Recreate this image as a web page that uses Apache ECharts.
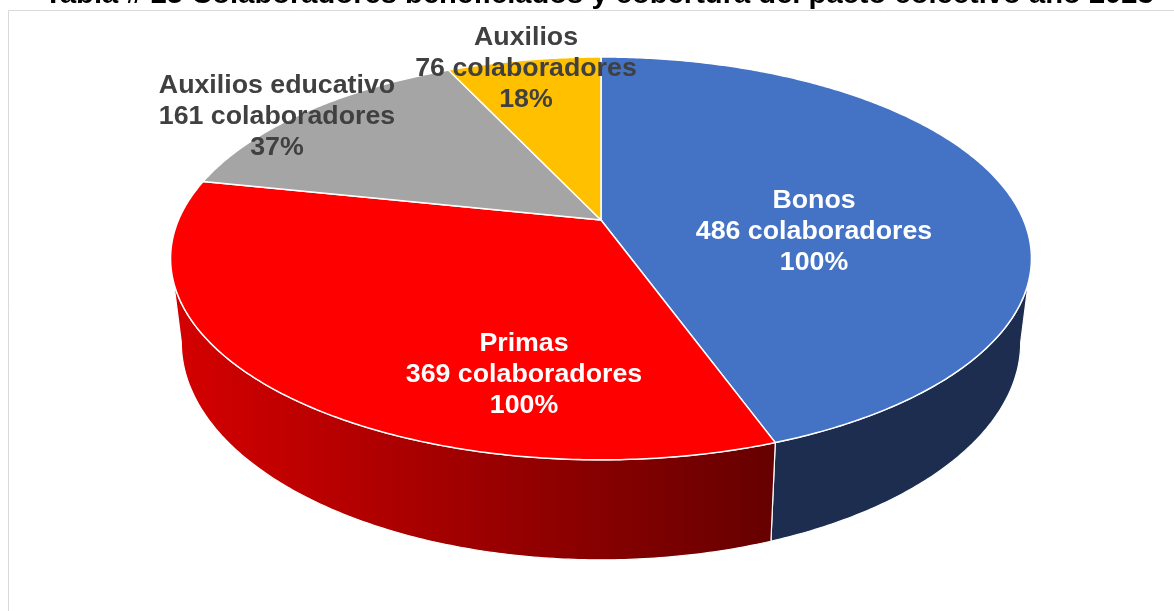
<!DOCTYPE html>
<html>
<head>
<meta charset="utf-8">
<script src="https://cdn.jsdelivr.net/npm/echarts@6/dist/echarts.min.js"></script>
<style>
html,body{margin:0;padding:0;background:#fff;}
#chart{width:1174px;height:611px;}
</style>
</head>
<body>
<div id="chart"></div>
<script>
// ---- data ----
var categories = ['Bonos', 'Primas', 'Auxilios educativo', 'Auxilios'];
var colaboradores = [486, 369, 161, 76];
var cobertura = ['100%', '100%', '37%', '18%'];
var titleText = 'Tabla # 25 Colaboradores beneficiados y cobertura del pacto colectivo año 2023';

// ---- style / layout ----
var topColors = ['#4472C4', '#FF0000', '#A5A5A5', '#FFC000'];
var wallColors = [
  '#1C2D50',
  {type: 'linear', x: 180, y: 0, x2: 775, y2: 0, global: true,
   colorStops: [{offset: 0, color: '#D40000'}, {offset: 1, color: '#660000'}]},
  '#5E5E5E',
  '#8F6C00'
];
var labelColors = ['#FFFFFF', '#FFFFFF', '#404040', '#404040'];
var labelPos = [[814, 232], [524, 375], [277, 117], [526, 69]];

// perspective projection of a tilted disc
var P = {cx: 601, yh: -797, H: 5329, D0: 5.24, F: 2214, depth: 424, shrink: 0.975};
function proj(theta, r, bottom) {
  var D = P.D0 + r * Math.cos(theta);
  var f = bottom ? P.F * P.shrink : P.F;
  return [P.cx + f * r * Math.sin(theta) / D, P.yh + (P.H + (bottom ? P.depth : 0)) / D];
}
var total = colaboradores.reduce(function (a, b) { return a + b; }, 0);
function sliceAngles(i) {
  var s = 0;
  for (var k = 0; k < i; k++) s += colaboradores[k];
  return [s / total * 2 * Math.PI, (s + colaboradores[i]) / total * 2 * Math.PI];
}
var silA = Math.acos(-1 / P.D0), silB = 2 * Math.PI - silA;

function arcPts(a, b, bottom) {
  var pts = [], n = Math.max(4, Math.ceil((b - a) / 0.01));
  for (var j = 0; j <= n; j++) pts.push(proj(a + (b - a) * j / n, 1, bottom));
  return pts;
}

var chart = echarts.init(document.getElementById('chart'), null, {renderer: 'canvas'});
chart.setOption({
  animation: false,
  graphic: [
    {type: 'rect', shape: {x: 8.5, y: 10.5, width: 1200, height: 700},
     style: {fill: 'none', stroke: '#D9D9D9', lineWidth: 1}, z: 0},
    {type: 'text', x: 599, y: -4.5, z: 10, scaleX: 1.08,
     style: {text: titleText, fill: '#000', font: 'bold 27px "Liberation Sans", Arial, sans-serif',
             textAlign: 'center', textVerticalAlign: 'middle'}}
  ],
  series: [
    {
      type: 'custom', coordinateSystem: 'none', z: 1,
      data: colaboradores,
      renderItem: function (params, api) {
        var i = params.dataIndex;
        var ang = sliceAngles(i);
        var lo = Math.max(ang[0], silA), hi = Math.min(ang[1], silB);
        if (hi <= lo) return {type: 'group', children: []};
        var topArc = arcPts(lo, hi, false);
        var botArc = arcPts(lo, hi, true).reverse();
        return {
          type: 'polygon',
          shape: {points: topArc.concat(botArc)},
          style: {fill: wallColors[i], stroke: '#FFFFFF', lineWidth: 1.2}
        };
      }
    },
    {
      type: 'custom', coordinateSystem: 'none', z: 2,
      data: colaboradores,
      renderItem: function (params, api) {
        var i = params.dataIndex;
        var ang = sliceAngles(i);
        var pts = [proj(0, 0, false)].concat(arcPts(ang[0], ang[1], false));
        return {
          type: 'polygon',
          shape: {points: pts},
          style: {fill: topColors[i], stroke: '#FFFFFF', lineWidth: 1.5, lineJoin: 'round'}
        };
      }
    },
    {
      type: 'custom', coordinateSystem: 'none', z: 3,
      data: colaboradores,
      renderItem: function (params, api) {
        var i = params.dataIndex;
        return {
          type: 'text',
          x: labelPos[i][0], y: labelPos[i][1], scaleX: 1.07,
          style: {
            text: categories[i] + '\n' + api.value(0) + ' colaboradores\n' + cobertura[i],
            fill: labelColors[i],
            font: 'bold 25px "Liberation Sans", Arial, sans-serif',
            lineHeight: 31,
            textAlign: 'center', textVerticalAlign: 'middle'
          }
        };
      }
    }
  ]
});
</script>
</body>
</html>
